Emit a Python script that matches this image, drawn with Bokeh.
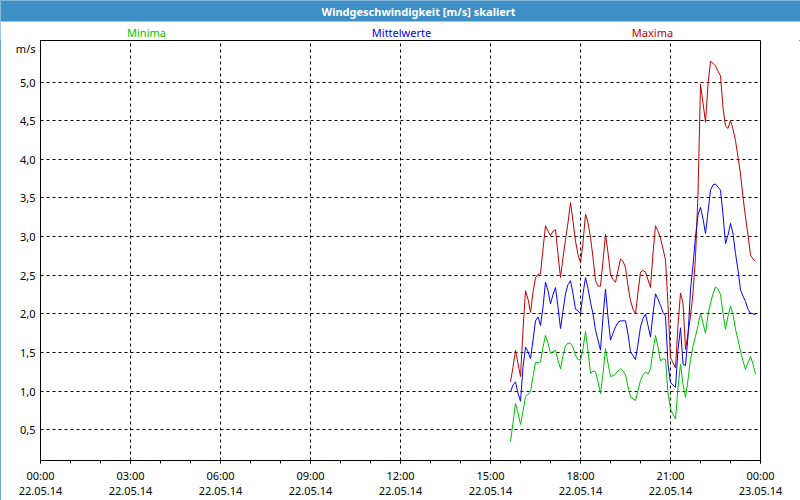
import pandas as pd
from datetime import datetime
from bokeh.plotting import figure
from bokeh.layouts import column
from bokeh.models import (Range1d, FixedTicker, CustomJSTickFormatter, Label,
                          BoxAnnotation, ColumnDataSource)
from bokeh.embed import file_html
from bokeh.resources import INLINE

# ---- data (5-minute values, 22.05.14 15:40 .. 23:50) ----
start_time = "2014-05-22 15:40"
step = "5min"

maxima = [1.12, 1.31, 1.53, 1.36, 1.19, 1.79, 2.30, 2.19, 2.02, 2.28,
          2.47, 2.51, 2.52, 2.84, 3.14, 3.07, 3.01, 3.07, 3.09, 2.77,
          2.47, 2.73, 2.96, 3.18, 3.44, 3.20, 2.94, 2.77, 2.66, 2.92,
          3.29, 3.18, 2.99, 2.73, 2.43, 2.36, 2.36, 2.68, 3.03, 2.79,
          2.51, 2.44, 2.41, 2.56, 2.71, 2.68, 2.60, 2.36, 2.17, 2.06,
          2.00, 2.28, 2.54, 2.56, 2.54, 2.44, 2.34, 2.79, 3.14, 3.07,
          2.98, 2.84, 2.70, 2.12, 1.43, 1.37, 1.30, 1.86, 2.27, 2.14,
          1.54, 1.75, 1.97, 2.27, 2.74, 3.55, 4.97, 4.73, 4.48, 4.97,
          5.27, 5.24, 5.21, 5.14, 5.08, 4.67, 4.43, 4.40, 4.50, 4.39,
          4.24, 4.03, 3.81, 3.51, 3.25, 3.02, 2.76, 2.71, 2.68]

mittelwerte = [0.99, 1.08, 1.12, 0.97, 0.87, 1.31, 1.57, 1.51, 1.42, 1.66,
               1.91, 1.96, 1.85, 2.09, 2.41, 2.30, 2.13, 2.25, 2.34, 2.09,
               1.81, 2.04, 2.26, 2.38, 2.43, 2.26, 2.06, 2.04, 2.00, 2.26,
               2.47, 2.33, 2.15, 2.00, 1.79, 1.66, 1.53, 1.96, 2.32, 1.96,
               1.66, 1.75, 1.83, 1.89, 1.91, 1.91, 1.91, 1.74, 1.51, 1.46,
               1.41, 1.61, 1.83, 1.94, 2.00, 1.85, 1.70, 2.00, 2.26, 2.19,
               2.11, 2.02, 1.97, 1.35, 1.11, 1.08, 1.05, 1.54, 1.82, 1.35,
               1.33, 1.71, 2.31, 2.63, 3.00, 3.28, 3.38, 3.23, 3.04, 3.32,
               3.60, 3.67, 3.68, 3.64, 3.60, 3.28, 2.91, 3.02, 3.17, 3.04,
               2.78, 2.57, 2.31, 2.23, 2.16, 2.06, 2.01, 2.00, 1.99]

minima = [0.35, 0.59, 0.84, 0.72, 0.57, 0.74, 0.93, 0.96, 0.99, 1.19,
          1.37, 1.37, 1.38, 1.57, 1.72, 1.62, 1.49, 1.51, 1.53, 1.40,
          1.29, 1.46, 1.59, 1.62, 1.62, 1.57, 1.46, 1.41, 1.40, 1.55,
          1.77, 1.52, 1.23, 1.26, 1.25, 1.12, 0.97, 1.23, 1.55, 1.36,
          1.19, 1.20, 1.23, 1.26, 1.29, 1.26, 1.21, 1.06, 0.93, 0.90,
          0.88, 1.01, 1.14, 1.21, 1.25, 1.22, 1.29, 1.53, 1.72, 1.57,
          1.39, 1.42, 1.41, 0.98, 0.77, 0.70, 0.64, 1.05, 1.35, 1.09,
          0.92, 1.15, 1.41, 1.58, 1.71, 1.85, 2.01, 1.88, 1.75, 1.99,
          2.14, 2.26, 2.35, 2.32, 2.25, 2.01, 1.80, 1.97, 2.10, 1.99,
          1.80, 1.66, 1.52, 1.39, 1.28, 1.37, 1.45, 1.35, 1.22]

y_ticks = [0.5, 1.0, 1.5, 2.0, 2.5, 3.0, 3.5, 4.0, 4.5, 5.0]
x_major_hours = [0, 3, 6, 9, 12, 15, 18, 21, 24]
x_minor_hours = list(range(0, 25))

title_text = "Windgeschwindigkeit [m/s] skaliert"
legend_names = ["Minima", "Mittelwerte", "Maxima"]
unit_text = "m/s"

# ---- style ----
FONT = "Noto Sans"
BLUE_BAR = "#3D8FC6"
RED = "#C00000"
BLUEL = "#0000FF"
GREEN = "#00C000"

# ---- header strip (title bar + series names), pixel coordinates ----
hdr = figure(width=800, height=40, x_range=Range1d(0, 800), y_range=Range1d(40, 0),
             output_backend="svg", toolbar_location=None,
             x_axis_location=None, y_axis_location=None,
             min_border=0, min_border_left=0, min_border_right=0,
             min_border_top=0, min_border_bottom=0)
hdr.outline_line_color = None
hdr.background_fill_color = "white"
hdr.border_fill_color = "white"
hdr.grid.grid_line_color = None

hdr.add_layout(BoxAnnotation(left=0, right=800, top=0, bottom=21,
                             fill_color=BLUE_BAR, fill_alpha=1, line_alpha=0))
hdr.add_layout(Label(x=418, y=10.5, text=title_text, text_align="center",
                     text_baseline="middle", text_font=FONT, text_font_size="11px",
                     text_font_style="bold", text_color="white"))
for name, cx, col in zip(legend_names, [146, 401, 652], [GREEN, BLUEL, RED]):
    hdr.add_layout(Label(x=cx, y=32, text=name, text_align="center",
                         text_baseline="middle", text_font=FONT,
                         text_font_size="11px", text_color=col))

# ---- main chart ----
times = pd.date_range(start_time, periods=len(maxima), freq=step)
src = ColumnDataSource(dict(t=times, mx=maxima, mw=mittelwerte, mn=minima))

t0 = datetime(2014, 5, 22, 0, 0)
t1 = datetime(2014, 5, 23, 0, 0)
ms0 = pd.Timestamp(t0).value // 10**6
HOUR = 3600 * 1000
UNIT_POS = 5.446  # where the unit caption sits on the value axis

p = figure(width=800, height=460, frame_width=720, frame_height=420,
           x_axis_type="datetime",
           x_range=Range1d(t0, t1), y_range=Range1d(0.103, 5.537),
           output_backend="svg", toolbar_location=None,
           min_border_left=40, min_border_right=40,
           min_border_top=0, min_border_bottom=40)

for fig in (hdr, p):
    if "frame_align" in fig.properties():
        fig.frame_align = False

p.background_fill_color = "white"
p.border_fill_color = "white"
p.outline_line_color = "black"
p.outline_line_width = 1
p.outline_line_alpha = 1

xa = p.xaxis[0]
xa.ticker = FixedTicker(ticks=[ms0 + h * HOUR for h in x_major_hours],
                        minor_ticks=[ms0 + h * HOUR for h in x_minor_hours])
xa.formatter = CustomJSTickFormatter(code="""
const d = new Date(tick);
const p2 = (n) => (n < 10 ? "0" : "") + n;
return p2(d.getUTCHours()) + ":" + p2(d.getUTCMinutes()) + "\\n" +
       p2(d.getUTCDate()) + "." + p2(d.getUTCMonth() + 1) + "." +
       String(d.getUTCFullYear()).slice(2);
""")
xa.major_tick_out = 3
xa.major_tick_in = 0
xa.minor_tick_out = 3
xa.minor_tick_in = 0
xa.major_tick_line_color = "black"
xa.minor_tick_line_color = "black"
xa.axis_line_color = "black"
xa.major_label_standoff = 4
xa.major_label_text_font = FONT
xa.major_label_text_font_size = "11px"
xa.major_label_text_color = "black"
xa.major_label_text_line_height = 1.0

ya = p.yaxis[0]
ya.ticker = FixedTicker(ticks=y_ticks + [UNIT_POS])
ya.formatter = CustomJSTickFormatter(args=dict(unit=unit_text), code="""
if (tick > 5.2) { return unit; }
return tick.toFixed(1).replace('.', ',');
""")
ya.major_tick_out = 0
ya.major_tick_in = 0
ya.minor_tick_out = 0
ya.minor_tick_in = 0
ya.axis_line_color = "black"
ya.major_label_standoff = 5
ya.major_label_text_font = FONT
ya.major_label_text_font_size = "11px"
ya.major_label_text_color = "black"

p.xgrid.ticker = FixedTicker(ticks=[ms0 + h * HOUR for h in x_major_hours[1:-1]])
p.ygrid.ticker = FixedTicker(ticks=y_ticks)
for g in (p.xgrid[0], p.ygrid[0]):
    g.grid_line_color = "black"
    g.grid_line_dash = "3 3"
    g.grid_line_width = 1
    g.grid_line_alpha = 1

p.line("t", "mx", source=src, line_color=RED, line_width=1)
p.line("t", "mw", source=src, line_color=BLUEL, line_width=1)
p.line("t", "mn", source=src, line_color=GREEN, line_width=1)

layout = column(hdr, p, spacing=0,
                styles={"outline": "1px solid " + BLUE_BAR, "outline-offset": "-1px"})

open("out.html", "w").write(file_html(layout, INLINE))
